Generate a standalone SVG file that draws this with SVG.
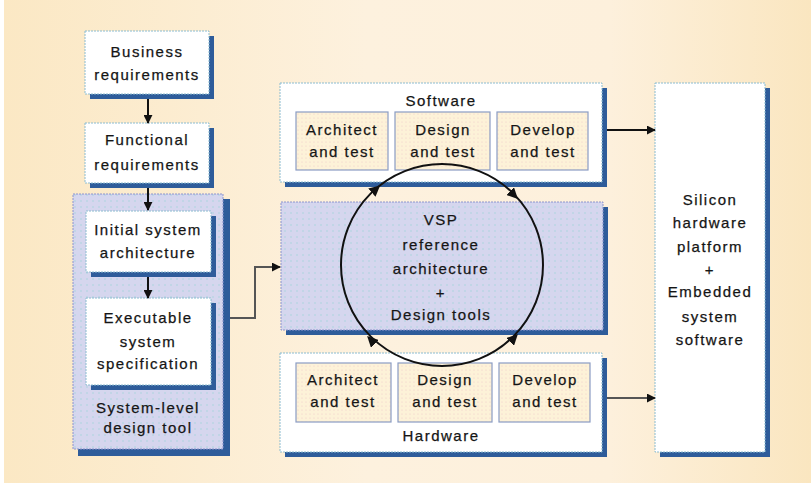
<svg xmlns="http://www.w3.org/2000/svg" width="811" height="490" viewBox="0 0 811 490">
<defs>
<linearGradient id="bg" x1="0" y1="0" x2="1" y2="0">
<stop offset="0" stop-color="#fbe8c4"/>
<stop offset="0.45" stop-color="#fdf1de"/>
<stop offset="0.75" stop-color="#fdf0dc"/>
<stop offset="1" stop-color="#fae6c0"/>
</linearGradient>
<pattern id="dotsL" width="6" height="6" patternUnits="userSpaceOnUse">
<rect width="6" height="6" fill="#d5d6ee"/>
<circle cx="3" cy="3" r="0.8" fill="#a8d4dc"/>
</pattern>
<pattern id="dotsY" width="4" height="4" patternUnits="userSpaceOnUse">
<rect width="4" height="4" fill="#fdf2d8"/>
<circle cx="2" cy="2" r="0.6" fill="#f0cccc"/>
</pattern>
<marker id="ah" viewBox="0 0 10 10" refX="9" refY="5" markerWidth="9" markerHeight="9" markerUnits="userSpaceOnUse" orient="auto">
<path d="M0,0 L10,5 L0,10 z" fill="#111"/>
</marker>
<marker id="ahc" viewBox="0 0 10 10" refX="5" refY="5" markerWidth="11" markerHeight="11" markerUnits="userSpaceOnUse" orient="auto">
<path d="M0,0 L10,5 L0,10 z" fill="#111"/>
</marker>
</defs>
<style>
.t{font-family:"Liberation Sans",Arial,sans-serif;font-size:15px;fill:#151515;stroke:#151515;stroke-width:0.25;text-anchor:middle;letter-spacing:1.5px}
.sh{fill:#2e5c9a}
.wb{fill:#ffffff;stroke:#8cbcd0;stroke-width:1;stroke-dasharray:2 1}
.lb{fill:url(#dotsL);stroke:#8c94cc;stroke-width:1;stroke-dasharray:2 1}
.yb{fill:url(#dotsY);stroke:#8a9cc4;stroke-width:1.2}
.ln{fill:none;stroke:#111;stroke-width:2}
.lg{fill:none;stroke:#555;stroke-width:2}
</style>
<rect x="0" y="0" width="811" height="490" fill="#ffffff"/>
<rect x="4" y="0" width="807" height="483" fill="url(#bg)"/>

<g id="business">
<rect class="sh" x="90" y="36" width="124" height="63"/>
<rect class="wb" x="85" y="31" width="124" height="63"/>
<text class="t" x="147" y="57">Business</text>
<text class="t" x="147" y="80">requirements</text>
</g>
<g id="functional">
<rect class="sh" x="90" y="128" width="124" height="60"/>
<rect class="wb" x="85" y="123" width="124" height="60"/>
<text class="t" x="147" y="145">Functional</text>
<text class="t" x="147" y="170">requirements</text>
</g>
<g id="system-level-tool">
<rect class="sh" x="78" y="199" width="152" height="257"/>
<rect class="lb" x="73" y="194" width="150" height="255"/>
<text class="t" x="148" y="413">System-level</text>
<text class="t" x="148" y="433">design tool</text>
</g>
<g id="initial-arch">
<rect class="sh" x="91" y="216" width="125" height="61"/>
<rect class="wb" x="86" y="211" width="125" height="61"/>
<text class="t" x="148" y="235">Initial system</text>
<text class="t" x="148" y="258">architecture</text>
</g>
<g id="exec-spec">
<rect class="sh" x="91" y="303" width="125" height="87"/>
<rect class="wb" x="86" y="298" width="125" height="87"/>
<text class="t" x="148" y="323">Executable</text>
<text class="t" x="148" y="347">system</text>
<text class="t" x="148" y="369">specification</text>
</g>

<g id="software">
<rect class="sh" x="285" y="88" width="322" height="99"/>
<rect class="wb" x="280" y="83" width="322" height="99"/>
<text class="t" x="441" y="106">Software</text>
</g>
<g id="sw-architect">
<rect class="yb" x="296" y="112" width="92" height="58"/>
<text class="t" x="342" y="135">Architect</text>
<text class="t" x="342" y="157">and test</text>
</g>
<g id="sw-design">
<rect class="yb" x="395" y="112" width="95" height="58"/>
<text class="t" x="443" y="135">Design</text>
<text class="t" x="443" y="157">and test</text>
</g>
<g id="sw-develop">
<rect class="yb" x="497" y="112" width="91" height="58"/>
<text class="t" x="543" y="135">Develop</text>
<text class="t" x="543" y="157">and test</text>
</g>

<g id="vsp">
<rect class="sh" x="286" y="207" width="322" height="128"/>
<rect class="lb" x="281" y="202" width="322" height="128"/>
<text class="t" x="441" y="225">VSP</text>
<text class="t" x="441" y="250">reference</text>
<text class="t" x="441" y="274">architecture</text>
<text class="t" x="441" y="298">+</text>
<text class="t" x="441" y="320">Design tools</text>
</g>

<g id="hardware">
<rect class="sh" x="285" y="358" width="322" height="99"/>
<rect class="wb" x="280" y="353" width="322" height="99"/>
<text class="t" x="441" y="441">Hardware</text>
</g>
<g id="hw-architect">
<rect class="yb" x="296" y="363" width="95" height="59"/>
<text class="t" x="343" y="385">Architect</text>
<text class="t" x="343" y="407">and test</text>
</g>
<g id="hw-design">
<rect class="yb" x="398" y="363" width="94" height="59"/>
<text class="t" x="445" y="385">Design</text>
<text class="t" x="445" y="407">and test</text>
</g>
<g id="hw-develop">
<rect class="yb" x="499" y="363" width="91" height="59"/>
<text class="t" x="545" y="385">Develop</text>
<text class="t" x="545" y="407">and test</text>
</g>

<g id="silicon">
<rect class="sh" x="660" y="88" width="110" height="369"/>
<rect class="wb" x="655" y="83" width="110" height="369"/>
<text class="t" x="710" y="205">Silicon</text>
<text class="t" x="710" y="228">hardware</text>
<text class="t" x="710" y="252">platform</text>
<text class="t" x="710" y="275">+</text>
<text class="t" x="710" y="297">Embedded</text>
<text class="t" x="710" y="322">system</text>
<text class="t" x="710" y="345">software</text>
</g>

<g id="connectors">
<line class="ln" x1="148" y1="99" x2="148" y2="123" marker-end="url(#ah)"/>
<line class="ln" x1="148" y1="188" x2="148" y2="210" marker-end="url(#ah)"/>
<line class="ln" x1="148" y1="277" x2="148" y2="298" marker-end="url(#ah)"/>
<polyline class="lg" points="230,318 255,318 255,267 280,267" marker-end="url(#ah)"/>
<line class="ln" x1="607" y1="130" x2="655" y2="130" marker-end="url(#ah)"/>
<line class="lg" x1="607" y1="398" x2="655" y2="398" marker-end="url(#ah)"/>
<circle cx="442" cy="265" r="101" fill="none" stroke="#111" stroke-width="2"/>
<path d="M368,196 L376,189" fill="none" stroke="none" marker-end="url(#ahc)"/>
<path d="M507,188 L514,195" fill="none" stroke="none" marker-end="url(#ahc)"/>
<path d="M378,347 L371,340" fill="none" stroke="none" marker-end="url(#ahc)"/>
<path d="M507,345 L514,338" fill="none" stroke="none" marker-end="url(#ahc)"/>
</g>
</svg>
